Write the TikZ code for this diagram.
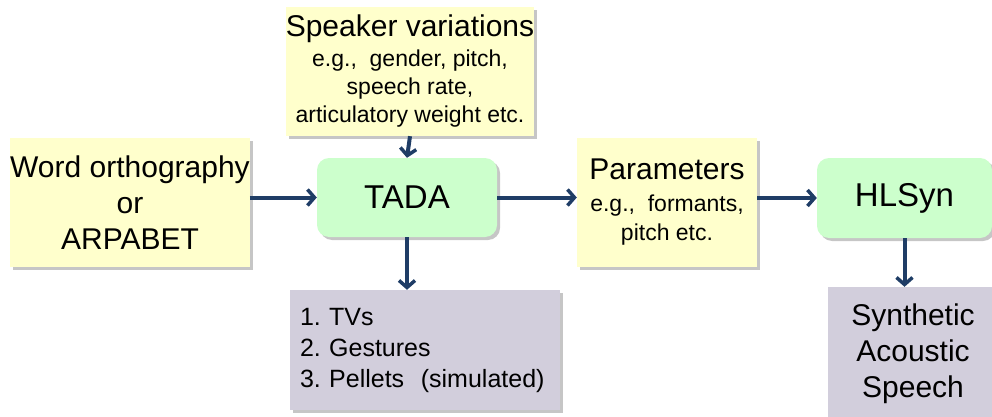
\documentclass[tikz,border=0pt]{standalone}
\usepackage{fontspec}
\setmainfont{Liberation Sans}
\usepackage{tikz}
\usetikzlibrary{arrows.meta,shadows,positioning}
\definecolor{noteyellow}{HTML}{FFFFCC}
\definecolor{blockgreen}{HTML}{CCFFCC}
\definecolor{resultgray}{HTML}{D2CEDC}
\definecolor{flowblue}{HTML}{1F3D66}
\tikzset{
	box/.style={inner sep=0pt, align=center,
		drop shadow={shadow xshift=3pt, shadow yshift=-3pt, fill=black!50, opacity=.45}},
	note/.style={box, fill=noteyellow},
	block/.style={box, fill=blockgreen, rounded corners=12pt,
		font=\fontsize{33}{36}\selectfont},
	result/.style={box, fill=resultgray},
	flow/.style={draw=flowblue, line width=4pt,
		-{Straight Barb[length=7pt,width=16pt,line width=3.5pt]}},
}

\begin{document}
\frenchspacing
\begin{tikzpicture}[x=1pt,y=-1pt]
\useasboundingbox (0,0) rectangle (992,417);
% the boxes
\node[note, minimum width=236pt, minimum height=129pt,
	font=\fontsize{30}{36}\selectfont] at (130,202.5) (word)
	{Word orthography\\or\\ARPABET};
\node[note, minimum width=236pt, minimum height=129pt,
	font=\fontsize{23}{28}\selectfont] at (410,71.5) (spk)
	{{\fontsize{30}{32}\selectfont Speaker variations}\\[2pt]
	e.g.,\ \ gender, pitch,\\ speech rate,\\ articulatory weight etc.};
\node[block, minimum width=180pt, minimum height=79pt] at (407,197.5) (tada) {TADA};
\node[note, minimum width=180pt, minimum height=129pt,
	font=\fontsize{23}{29}\selectfont] at (667,202.5) (param)
	{{\fontsize{30}{32}\selectfont Parameters}\\[3pt]
	e.g.,\ \ formants,\\ pitch etc.};
\node[block, minimum width=175pt, minimum height=80pt] at (904.5,198) (hlsyn) {HLSyn};
\node[result, minimum width=270pt, minimum height=120pt, align=left,
	text width=250pt, font=\fontsize{25}{31}\selectfont] at (425,350) (out)
	{1. TVs\\ 2. Gestures\\ 3. Pellets\ \ (simulated)};
\node[result, minimum width=170pt, minimum height=134pt,
	font=\fontsize{30}{36}\selectfont] at (913,354) (synth)
	{Synthetic\\Acoustic\\Speech};

% the arrows
\draw[flow] (word.east |- tada) -- (tada.west);
\draw[flow] (spk.south) -- (tada.north);
\draw[flow] (tada.east) -- (param.west |- tada);
\draw[flow] (param.east |- hlsyn) -- (hlsyn.west);
\draw[flow] (tada.south) -- (tada.south |- out.north);
\draw[flow] (hlsyn.south) -- (hlsyn.south |- synth.north);

\end{tikzpicture}
\end{document}
